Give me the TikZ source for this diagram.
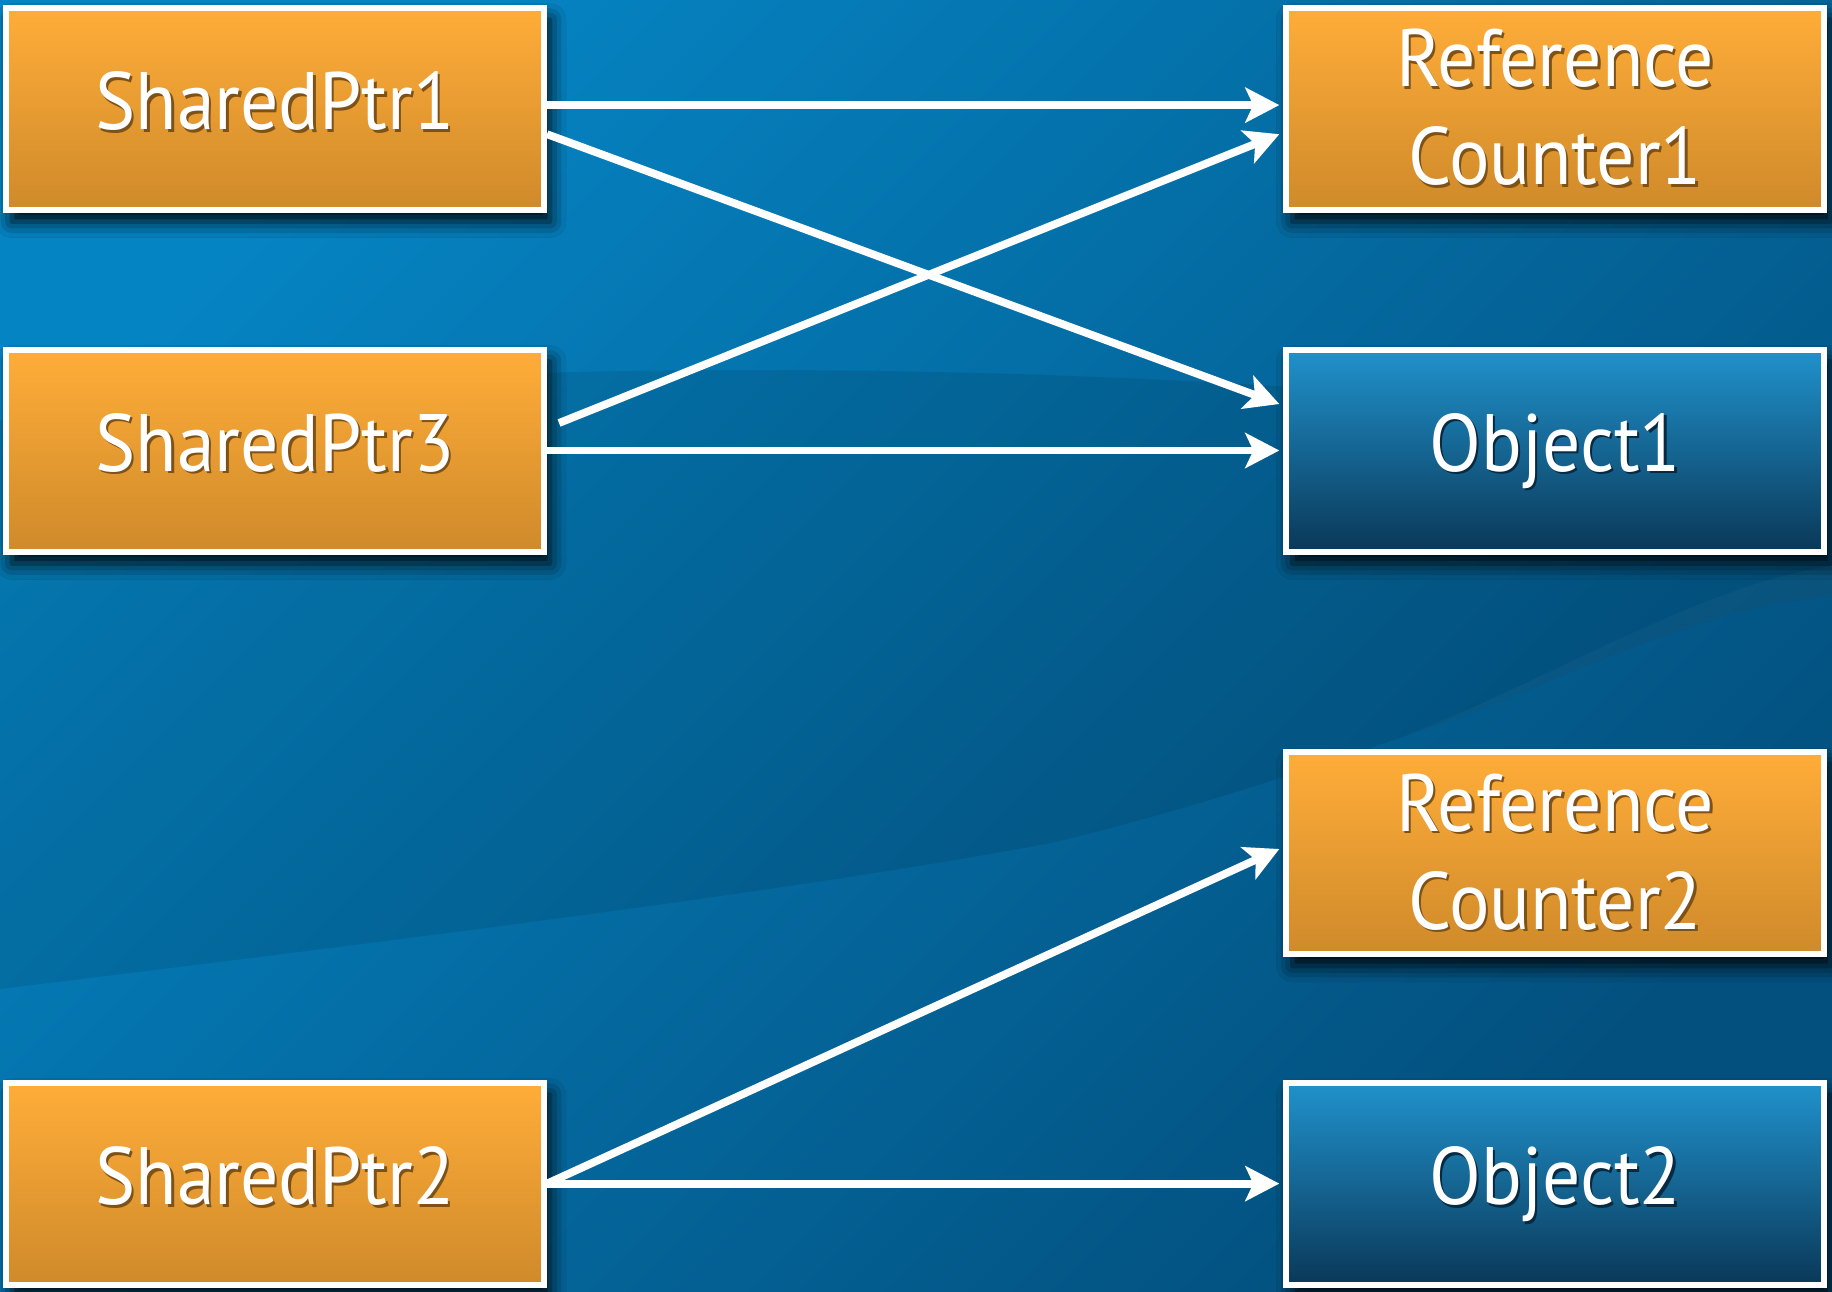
\documentclass[tikz,border=0pt]{standalone}
\usepackage{fontspec}
\setmainfont{PT Sans}[FakeStretch=0.93]
\usetikzlibrary{arrows.meta,shadows.blur,calc}
\definecolor{bgTL}{HTML}{0584C3}
\definecolor{bgBR}{HTML}{03507E}
\definecolor{orTop}{HTML}{FFAD39}
\definecolor{orBot}{HTML}{CF8A2A}
\definecolor{blTop}{HTML}{2092CC}
\definecolor{blBot}{HTML}{0A3858}
\definecolor{tshOr}{HTML}{7E5216}
\definecolor{tshBl}{HTML}{052A42}
\newcommand\tshor[1]{\rlap{\kern1.2pt\raisebox{-1.2pt}{\color{tshOr}#1}}#1}
\newcommand\tshbl[1]{\rlap{\kern1.2pt\raisebox{-1.2pt}{\color{tshBl}#1}}#1}
\newcommand\oneline[1]{\raisebox{0pt}[21pt][0pt]{#1}}
\begin{document}
\begin{tikzpicture}[x=0.5pt,y=-0.5pt,
  box/.style={draw=white, line width=3pt, minimum width=269pt, minimum height=101pt,
    inner sep=0pt, align=center, text=white,
    font=\fontsize{40.7pt}{49pt}\selectfont,
    blur shadow={shadow xshift=3pt, shadow yshift=-6pt, shadow blur radius=8pt, shadow opacity=95}},
  obox/.style={box, top color=orTop, bottom color=orBot},
  bbox/.style={box, top color=blTop, bottom color=blBot},
  conn/.style={draw=white, line width=3.9pt, -{Stealth[length=17pt,width=17.5pt,inset=4pt]}}]
\useasboundingbox (0,0) rectangle (1832,1291);
% background
\shade[shading=axis, top color=bgTL, bottom color=bgBR, shading angle=45] (0,0) rectangle (1832,1291);
% darker band
\fill[black, opacity=0.09] (0,420) .. controls (300,360) and (1100,340) .. (1832,440)
  -- (1832,596) .. controls (1680,610) and (1550,690) .. (1402,737)
  .. controls (1280,780) and (1150,820) .. (1051,843)
  .. controls (800,890) and (400,940) .. (0,989) -- cycle;
\fill[white, opacity=0.03] (1832,566) .. controls (1700,585) and (1550,680) .. (1402,737)
  .. controls (1550,690) and (1680,610) .. (1832,596) -- cycle;
% boxes
\node[obox] (sp1) at (275,108.6) {\oneline{\tshor{SharedPtr1}}};
\node[obox] (sp3) at (275,450.5) {\oneline{\tshor{SharedPtr3}}};
\node[obox] (sp2) at (275,1183.6) {\oneline{\tshor{SharedPtr2}}};
\node[obox] (rc1) at (1555.3,108.6) {\tshor{Reference}\\\tshor{Counter1}};
\node[bbox] (ob1) at (1555.3,450.5) {\oneline{\tshbl{Object1}}};
\node[obox] (rc2) at (1555.3,853) {\tshor{Reference}\\\tshor{Counter2}};
\node[bbox] (ob2) at (1555.3,1183.6) {\oneline{\tshbl{Object2}}};
% connectors
\draw[conn] ($(sp1.east)+(0,-3.5)$) -- ($(rc1.west)+(-4,-3.5)$);
\draw[conn] ($(sp1.east)+(0,25.6)$) -- ($(ob1.west)+(-4,-46.5)$);
\draw[conn] ($(sp3.east)+(12,-27.5)$) -- ($(rc1.west)+(-4,25.6)$);
\draw[conn] (sp3.east) -- ($(ob1.west)+(-4,0)$);
\draw[conn] (sp2.east) -- ($(rc2.west)+(-4,-4)$);
\draw[conn] (sp2.east) -- ($(ob2.west)+(-4,0)$);
\end{tikzpicture}
\end{document}
